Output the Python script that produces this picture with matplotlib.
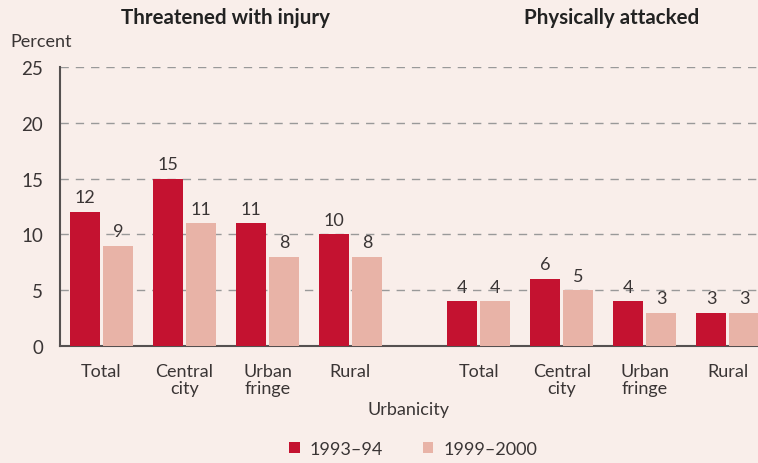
import numpy as np
import matplotlib.pyplot as plt

# values
panels = ['Threatened with injury', 'Physically attacked']
categories = ['Total', 'Central\ncity', 'Urban\nfringe', 'Rural']
threatened_9394 = [12, 15, 11, 10]
threatened_9900 = [9, 11, 8, 8]
attacked_9394 = [4, 6, 4, 3]
attacked_9900 = [4, 5, 3, 3]
series_labels = ['1993\u201394', '1999\u20132000']
yticks = [0, 5, 10, 15, 20, 25]

bg = '#f9eeea'
red = '#c41230'
pink = '#e8b3a7'
txt = '#3a3535'

plt.rcParams['font.family'] = ['Lato', 'DejaVu Sans']

fig = plt.figure(figsize=(7.58, 4.64), dpi=100)
fig.patch.set_facecolor(bg)
ax = fig.add_axes([60 / 758, 117 / 464, 698 / 758, 279 / 464])
ax.set_facecolor(bg)

x = np.array([0, 1, 2, 3, 4.545, 5.545, 6.545, 7.545])
old = threatened_9394 + attacked_9394
new = threatened_9900 + attacked_9900
w = 0.36
off = 0.2

b1 = ax.bar(x - off, old, w, color=red, zorder=3, label=series_labels[0])
b2 = ax.bar(x + off, new, w, color=pink, zorder=3, label=series_labels[1])

for xi, v in zip(x - off, old):
    ax.text(xi, v + 0.6, str(v), ha='center', va='bottom', fontsize=13, color=txt)
for xi, v in zip(x + off, new):
    ax.text(xi, v + 0.6, str(v), ha='center', va='bottom', fontsize=13, color=txt)

ax.set_xlim(-0.5, 7.91)
ax.set_ylim(0, 25)
ax.set_yticks(yticks)
ax.set_yticklabels([str(t) for t in yticks], fontsize=13.5, color=txt)
ax.tick_params(axis='y', length=0, pad=12)
ax.set_xticks(x)
ax.set_xticklabels(categories * 2, fontsize=13, color=txt, linespacing=1.1)
ax.tick_params(axis='x', length=0, pad=12)

ax.grid(axis='y', color='#999999', linestyle=(0, (6, 5)), linewidth=1, zorder=0)
for s in ['top', 'right']:
    ax.spines[s].set_visible(False)
ax.spines['left'].set_color('#555050')
ax.spines['bottom'].set_color('#555050')
ax.spines['left'].set_linewidth(1.5)
ax.spines['bottom'].set_linewidth(1.5)

fig.text(225 / 758, 1 - 18 / 464, panels[0], ha='center', va='center',
         fontsize=14.8, fontweight='bold', color='#222222')
fig.text(612 / 758, 1 - 18 / 464, panels[1], ha='center', va='center',
         fontsize=14.8, fontweight='bold', color='#222222')
fig.text(10 / 758, 1 - 42 / 464, 'Percent', ha='left', va='center', fontsize=13, color=txt)
fig.text(408 / 758, 1 - 410 / 464, 'Urbanicity', ha='center', va='center', fontsize=13, color=txt)

fig.legend(handles=[b1, b2], loc='center', bbox_to_anchor=(413 / 758, 1 - 450 / 464),
           ncol=2, frameon=False, fontsize=13, handlelength=0.6, handleheight=0.6,
           columnspacing=2.2, handletextpad=0.55, labelcolor=txt)

fig.savefig('out.png', dpi=100, facecolor=bg)
